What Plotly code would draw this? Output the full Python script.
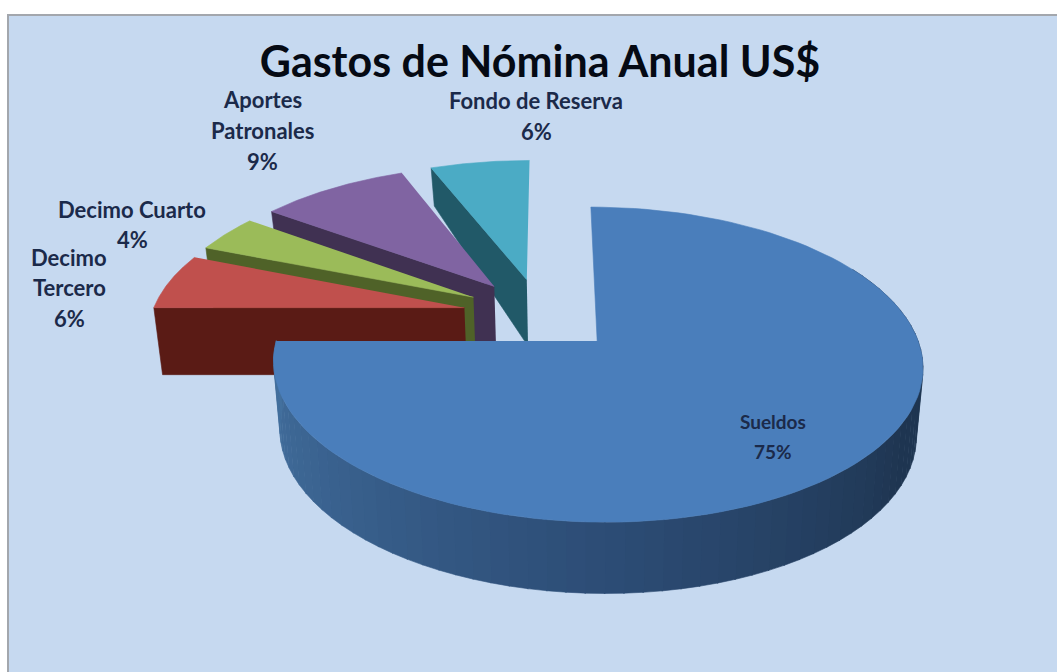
import numpy as np
import plotly.graph_objects as go

TITLE = "Gastos de Nómina Anual US$"
categories = ["Sueldos", "Decimo Tercero", "Decimo Cuarto", "Aportes Patronales", "Fondo de Reserva"]
values = [75, 6, 4, 9, 6]
top_colors = ["#4a7ebb", "#c0504d", "#9bbb59", "#8064a2", "#4babc5"]
wall_colors = ["#2c4c75", "#5a1b15", "#4f6228", "#403152", "#215968"]
label_lines = [["Sueldos"], ["Decimo", "Tercero"], ["Decimo Cuarto"], ["Aportes", "Patronales"], ["Fondo de Reserva"]]

# view of the tilted pie
CX, CY, A, K, P = 549.0, 341.0, 321.0, 154.0, 0.15
X0, EXPLODE = 0.15, 0.25
TEXT = "#1b2a4a"


def project(x, y):
    s = 1.0 / (1.0 + P * y)
    return CX + A * x * s, CY - K * y * s


def project_low(x, y):
    px, py = project(x, y)
    return 590 + (px - 590) * 0.98, py + np.interp(y, [-1.2, 0.5, 1.45], [72, 66, 35])


def poly(px, py, color, name):
    return go.Scatter(x=list(px), y=list(py), mode="lines", fill="toself", fillcolor=color,
                      line=dict(color=color, width=0.6), hoverinfo="skip", showlegend=False, name=name)


def rgb(h):
    return np.array([int(h[i:i + 2], 16) for i in (1, 3, 5)], dtype=float)


def wall_shade(deg):
    stops = [(60, "#1e334e"), (120, "#1f3652"), (180, "#2d4d76"), (230, "#3a628f"), (270, "#44719f")]
    ds = [s[0] for s in stops]
    cs = np.array([rgb(s[1]) for s in stops])
    c = [np.interp(deg, ds, cs[:, i]) for i in range(3)]
    return "rgb(%d,%d,%d)" % tuple(c)


total = sum(values)
edges = np.concatenate([[0], np.cumsum(values)]) / total * 360.0
mid0 = np.radians((edges[0] + edges[1]) / 2)
base_x = X0 - EXPLODE * np.sin(mid0)
base_y = 0.0 - EXPLODE * np.cos(mid0)

slices = []
for i in range(len(values)):
    mid = np.radians((edges[i] + edges[i + 1]) / 2)
    slices.append(dict(vx=base_x + EXPLODE * np.sin(mid), vy=base_y + EXPLODE * np.cos(mid),
                       a0=edges[i], a1=edges[i + 1]))

fig = go.Figure()
# painter's order: farthest slice first, Sueldos last
for i in [4, 3, 2, 1, 0]:
    s = slices[i]
    th = np.radians(np.linspace(s["a0"], s["a1"], 121))
    ax = s["vx"] + np.sin(th)
    ay = s["vy"] + np.cos(th)
    if i > 0:
        # cut face turned to the viewer, outward from the slice's first edge
        rx = np.array([s["vx"], ax[0]])
        ry = np.array([s["vy"], ay[0]])
        tx, ty = project(rx, ry)
        bx, by = project_low(rx, ry)
        fig.add_trace(poly(np.r_[tx, bx[::-1]], np.r_[ty, by[::-1]], wall_colors[i], categories[i] + " cara"))
    else:
        # rim of the large slice, shaded in steps
        for d0 in np.arange(60, 270, 3.0):
            t = np.radians([d0, d0 + 1.5, d0 + 3.2])
            rx, ry = s["vx"] + np.sin(t), s["vy"] + np.cos(t)
            tx, ty = project(rx, ry)
            bx, by = project_low(rx, ry)
            fig.add_trace(poly(np.r_[tx, bx[::-1]], np.r_[ty, by[::-1]], wall_shade(d0 + 1.5), "rim"))
    px, py = project(np.r_[s["vx"], ax], np.r_[s["vy"], ay])
    fig.add_trace(poly(px, py, top_colors[i], categories[i]))

pct = ["%d%%" % round(v / total * 100) for v in values]
anchors = [(773, 421, 30), (69, 257, 30), (132, 209, 0), (262, 99, 31), (536, 100, 0)]
pct_pos = [(773, 451), (69, 318), (132, 239), (262, 161), (536, 131)]
sizes = [19, 22, 22, 22, 22]
annotations = []
for lines, (ax_, ay_, step), p, (qx, qy), fs in zip(label_lines, anchors, pct, pct_pos, sizes):
    for j, line in enumerate(lines):
        annotations.append(dict(x=ax_, y=ay_ + j * step, text="<b>%s</b>" % line, showarrow=False, xref="x", yref="y",
                                font=dict(family="Lato", size=fs, color=TEXT)))
    annotations.append(dict(x=qx, y=qy, text="<b>%s</b>" % p, showarrow=False, xref="x", yref="y",
                            font=dict(family="Lato", size=fs, color=TEXT)))

fig.update_layout(
    width=1057, height=672, margin=dict(l=0, r=0, t=0, b=0),
    paper_bgcolor="white", plot_bgcolor="white", showlegend=False,
    title=dict(text="<b>%s</b>" % TITLE, x=540 / 1057, xanchor="center", y=1 - 62 / 672, yanchor="middle",
               font=dict(family="Lato", size=43, color="#050a14")),
    xaxis=dict(range=[0, 1057], visible=False, fixedrange=True),
    yaxis=dict(range=[672, 0], visible=False, fixedrange=True),
    shapes=[dict(type="rect", xref="x", yref="y", x0=8, y0=15, x1=1060, y1=680, layer="below",
                 fillcolor="#c6d9f0", line=dict(color="#a3a7ad", width=2))],
    annotations=annotations,
)
fig.write_html("out.html", config=dict(displayModeBar=False),
               post_script="document.body.style.margin='0';document.documentElement.style.overflow='hidden';")
